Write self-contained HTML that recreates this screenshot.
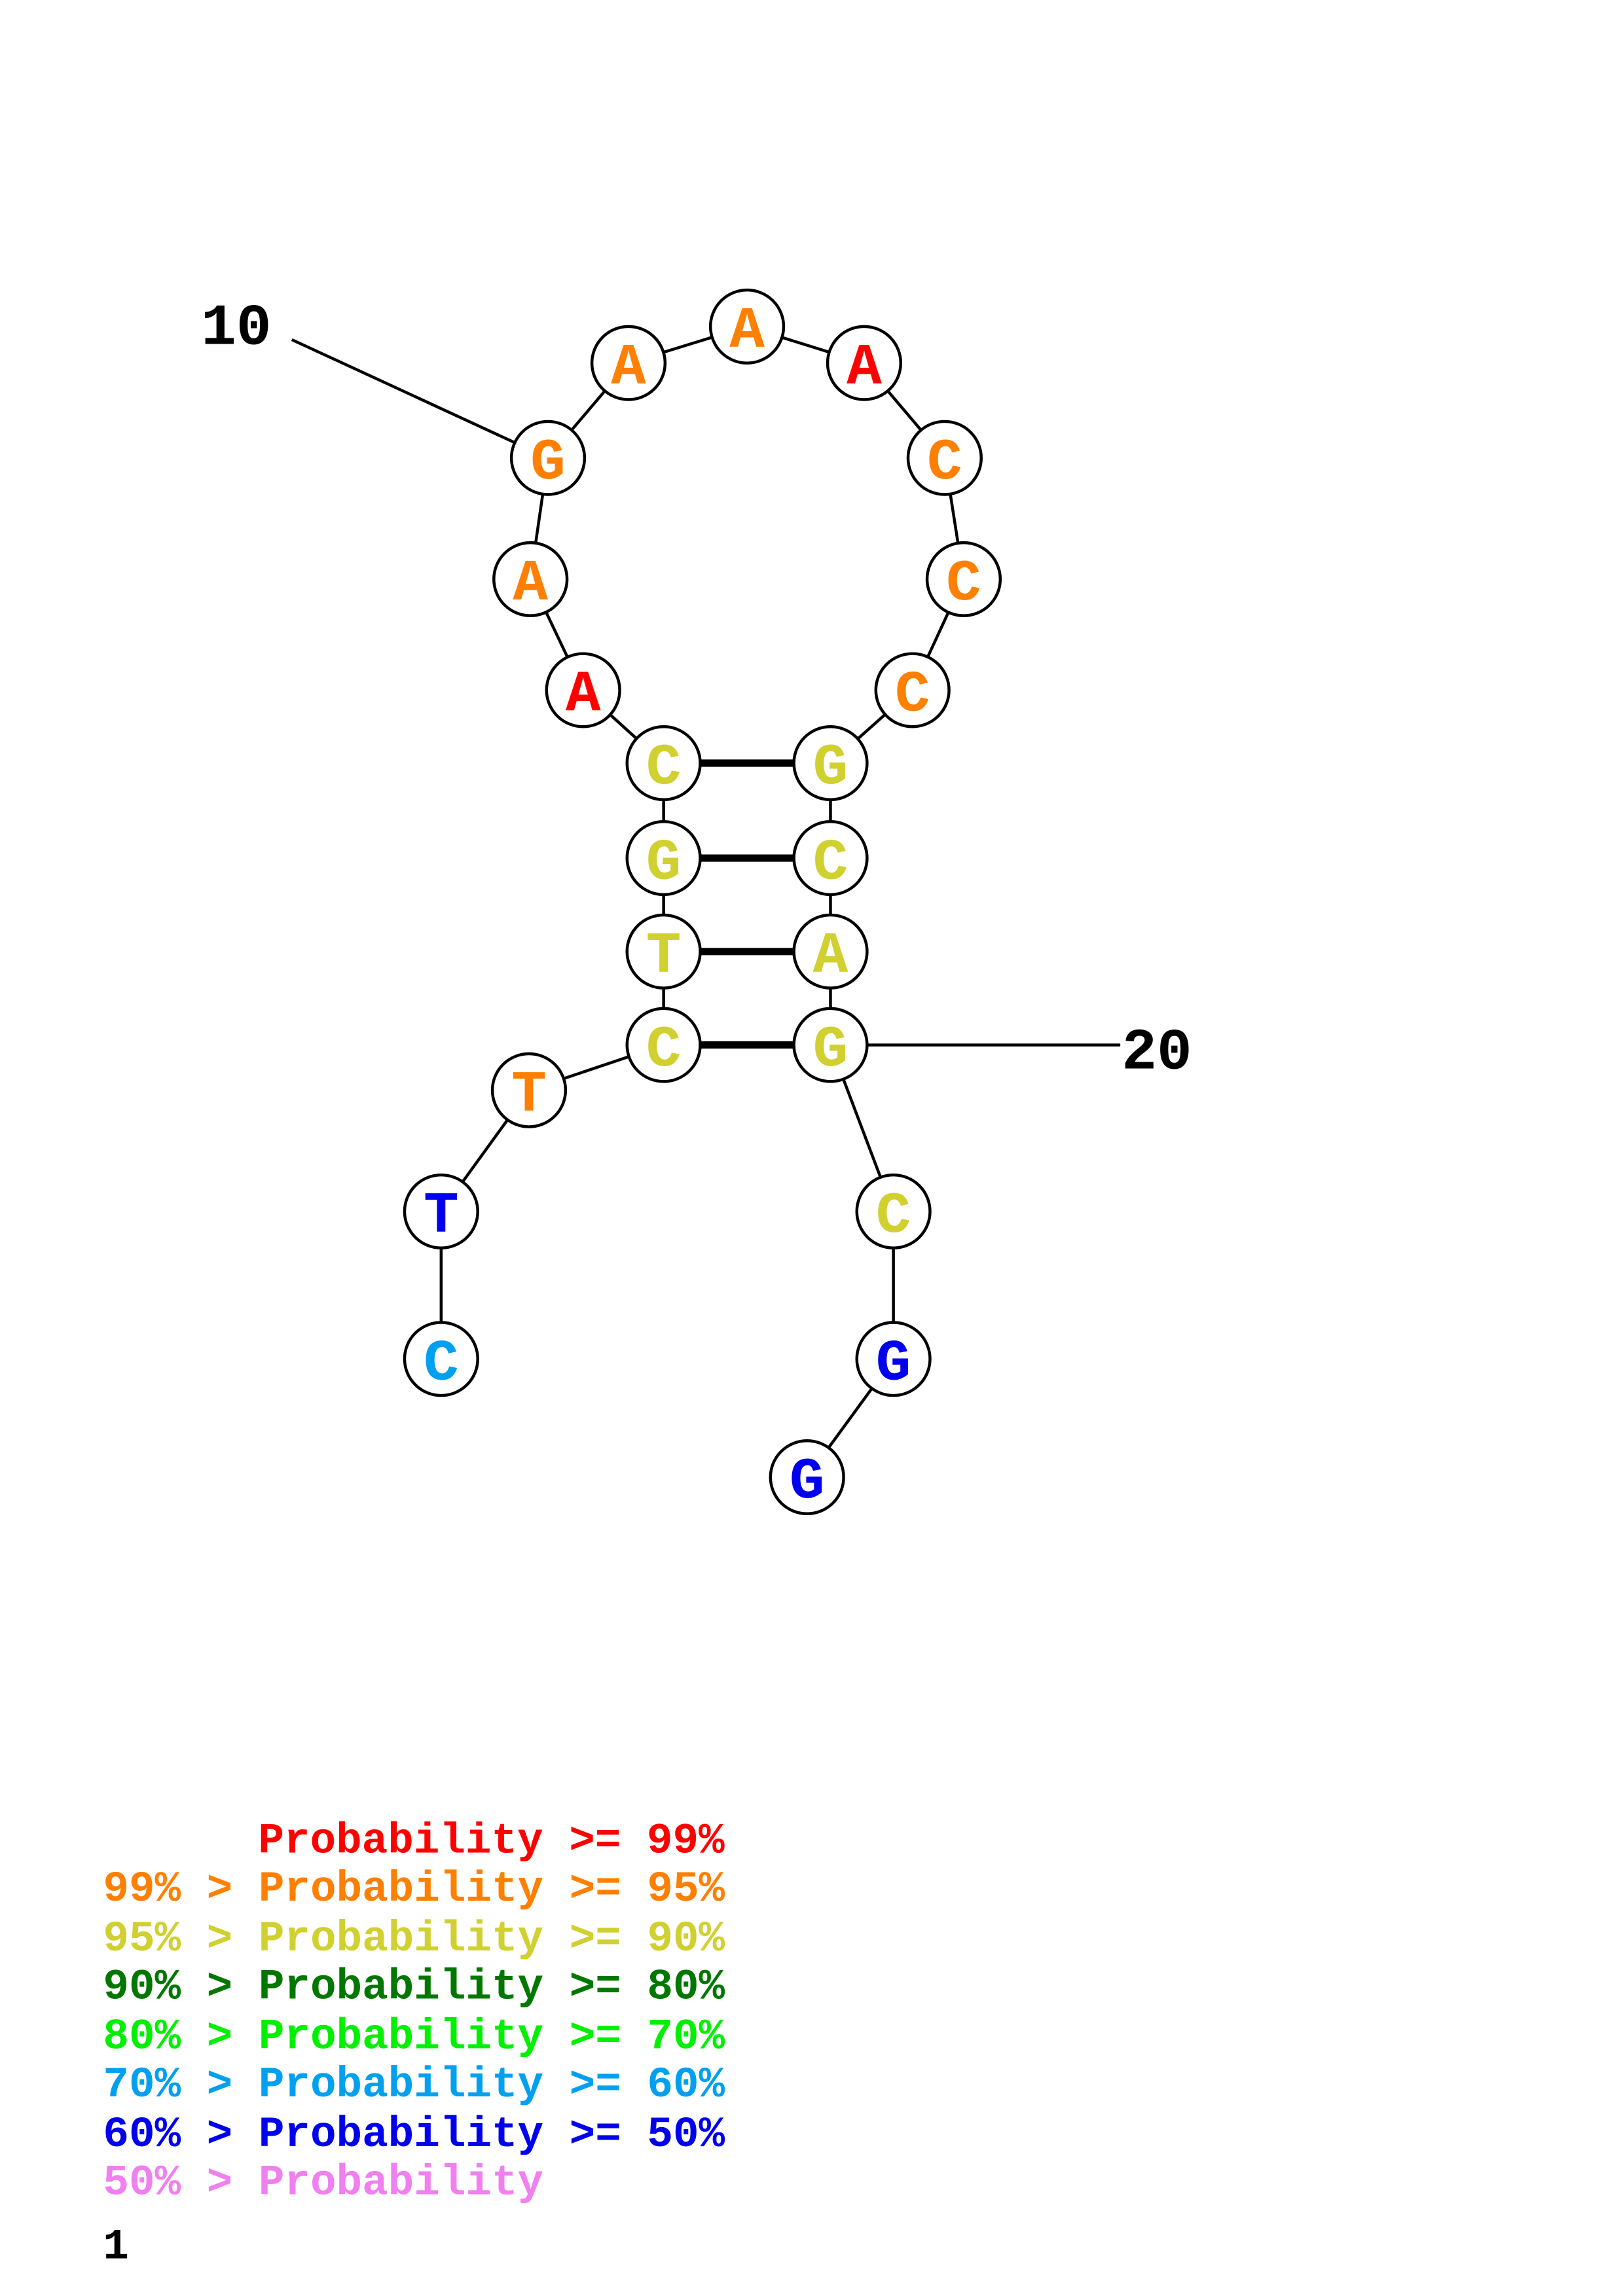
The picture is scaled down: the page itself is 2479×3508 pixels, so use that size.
<!DOCTYPE html>
<html><head><meta charset="utf-8"><style>html,body{margin:0;padding:0;background:#fff}svg{display:block}</style></head><body>
<svg width="2479" height="3508" viewBox="0 0 1100 1556.6" preserveAspectRatio="none" xmlns="http://www.w3.org/2000/svg">
<rect width="1100" height="1556.6" fill="#fff"/>
<g transform="translate(0.4,1.6) scale(0.992,0.99)">
<g stroke="#000" stroke-width="2" fill="none">
<polyline points="301,929 301,828 361,745 453,714 453,650 453,586 453,521 398,471 362,395 374,312 429,247 510,222 590,247 645,312 658,395 623,471 567,521 567,586 567,650 567,714 610,828 610,929 551,1010"/>
<line x1="199" y1="231" x2="374" y2="312"/>
<line x1="567" y1="714" x2="765" y2="714"/>
</g>
<g stroke="#000" stroke-width="5">
<line x1="453" y1="521" x2="567" y2="521"/>
<line x1="453" y1="586" x2="567" y2="586"/>
<line x1="453" y1="650" x2="567" y2="650"/>
<line x1="453" y1="714" x2="567" y2="714"/>
</g>
<g stroke="#000" stroke-width="2" fill="#fff">
<circle cx="301" cy="929" r="25"/><circle cx="301" cy="828" r="25"/><circle cx="361" cy="745" r="25"/>
<circle cx="453" cy="714" r="25"/><circle cx="453" cy="650" r="25"/><circle cx="453" cy="586" r="25"/><circle cx="453" cy="521" r="25"/>
<circle cx="398" cy="471" r="25"/><circle cx="362" cy="395" r="25"/><circle cx="374" cy="312" r="25"/><circle cx="429" cy="247" r="25"/>
<circle cx="510" cy="222" r="25"/><circle cx="590" cy="247" r="25"/><circle cx="645" cy="312" r="25"/><circle cx="658" cy="395" r="25"/>
<circle cx="623" cy="471" r="25"/><circle cx="567" cy="521" r="25"/><circle cx="567" cy="586" r="25"/><circle cx="567" cy="650" r="25"/>
<circle cx="567" cy="714" r="25"/><circle cx="610" cy="828" r="25"/><circle cx="610" cy="929" r="25"/><circle cx="551" cy="1010" r="25"/>
</g>
<g font-family="Liberation Mono, monospace" font-weight="bold" font-size="40" text-anchor="middle">
<text x="301" y="943" fill="#00a0f0">C</text>
<text x="301" y="842" fill="#0000ee">T</text>
<text x="361" y="759" fill="#ff8000">T</text>
<text x="453" y="728" fill="#d0d030">C</text>
<text x="453" y="664" fill="#d0d030">T</text>
<text x="453" y="600" fill="#d0d030">G</text>
<text x="453" y="535" fill="#d0d030">C</text>
<text x="398" y="485" fill="#ff0000">A</text>
<text x="362" y="409" fill="#ff8000">A</text>
<text x="374" y="326" fill="#ff8000">G</text>
<text x="429" y="261" fill="#ff8000">A</text>
<text x="510" y="236" fill="#ff8000">A</text>
<text x="590" y="261" fill="#ff0000">A</text>
<text x="645" y="326" fill="#ff8000">C</text>
<text x="658" y="409" fill="#ff8000">C</text>
<text x="623" y="485" fill="#ff8000">C</text>
<text x="567" y="535" fill="#d0d030">G</text>
<text x="567" y="600" fill="#d0d030">C</text>
<text x="567" y="664" fill="#d0d030">A</text>
<text x="567" y="728" fill="#d0d030">G</text>
<text x="610" y="842" fill="#d0d030">C</text>
<text x="610" y="943" fill="#0000ee">G</text>
<text x="551" y="1024" fill="#0000ee">G</text>
</g>
<g font-family="Liberation Mono, monospace" font-weight="bold" font-size="40" fill="#000">
<text x="137" y="234">10</text>
<text x="766" y="730">20</text>
</g>
<g font-family="Liberation Mono, monospace" font-weight="bold" font-size="29.5">
<text x="176" y="1267" fill="#ff0000">Probability &gt;= 99%</text>
<text x="70" y="1300" fill="#ff8000">99% &gt; Probability &gt;= 95%</text>
<text x="70" y="1334" fill="#d0d030">95% &gt; Probability &gt;= 90%</text>
<text x="70" y="1367" fill="#007800">90% &gt; Probability &gt;= 80%</text>
<text x="70" y="1401" fill="#00f000">80% &gt; Probability &gt;= 70%</text>
<text x="70" y="1434" fill="#00a0f0">70% &gt; Probability &gt;= 60%</text>
<text x="70" y="1468" fill="#0000ee">60% &gt; Probability &gt;= 50%</text>
<text x="70" y="1501" fill="#f080f0">50% &gt; Probability</text>
<text x="70" y="1545" fill="#000">1</text>
</g>
</g>
</svg>
</body></html>
